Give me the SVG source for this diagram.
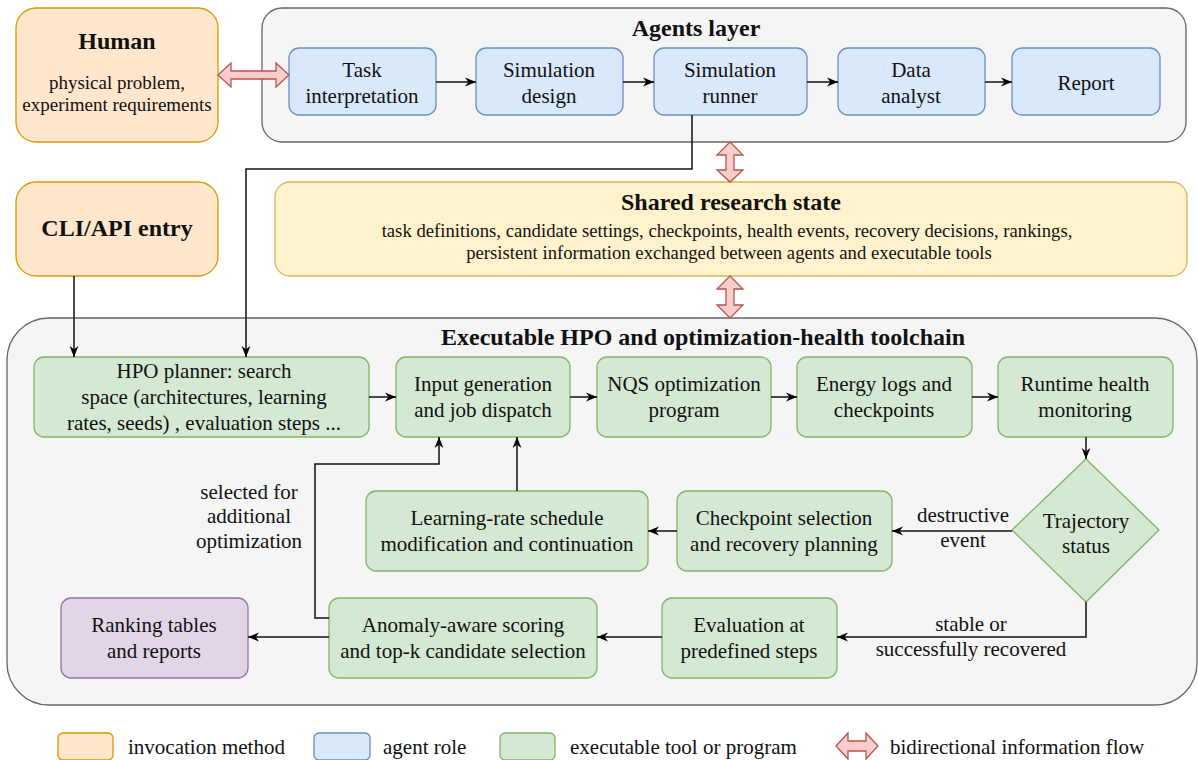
<svg xmlns="http://www.w3.org/2000/svg" width="1198" height="760" viewBox="0 0 1198 760">
<defs>
<marker id="arr" viewBox="0 0 10 10" refX="10" refY="5" markerWidth="11" markerHeight="11" markerUnits="userSpaceOnUse" orient="auto"><path d="M0,1 L10,5 L0,9 L3,5 z" fill="#000"/></marker>
<style>
text{font-family:"Liberation Serif","Times New Roman",serif;fill:#111;text-anchor:middle;}
.t{font-size:21px;}
.s{font-size:19px;}
.s2{font-size:18.7px;}
.b{font-size:24px;font-weight:bold;}
.inv{fill:#ffe6cc;stroke:#d79b00;stroke-width:1.3;}
.ag{fill:#dae8fc;stroke:#6c8ebf;stroke-width:1.3;}
.ex{fill:#d5e8d4;stroke:#82b366;stroke-width:1.3;}
.pu{fill:#e1d5e7;stroke:#9673a6;stroke-width:1.3;}
.st{fill:#fff2cc;stroke:#d6b656;stroke-width:1.3;}
.grp{fill:#f5f5f5;stroke:#666666;stroke-width:1.3;}
.bi{fill:#f8cecc;stroke:#b85450;stroke-width:1.3;}
.c{fill:none;stroke:#111;stroke-width:1.5;marker-end:url(#arr);}
.l{text-anchor:start;}
</style>
</defs>

<g id="agents-layer">
<rect class="grp" x="262" y="8" width="924" height="134" rx="20"/>
<text class="b" x="696" y="36">Agents layer</text>
</g>
<g id="toolchain">
<rect class="grp" x="7" y="318" width="1190" height="387" rx="42"/>
<text class="b" x="703" y="345">Executable HPO and optimization-health toolchain</text>
</g>

<g id="human">
<rect class="inv" x="16" y="8" width="202" height="134" rx="20"/>
<text class="b" x="117" y="49">Human</text>
<text class="s" x="117" y="89">physical problem,</text>
<text class="s" x="117" y="111">experiment requirements</text>
</g>
<g id="cli">
<rect class="inv" x="16" y="182" width="202" height="94" rx="20"/>
<text class="b" x="117" y="236">CLI/API entry</text>
</g>
<g id="shared-state">
<rect class="st" x="275" y="182" width="912" height="94" rx="15"/>
<text class="b" x="731" y="210">Shared research state</text>
<text class="s2" x="727" y="237">task definitions, candidate settings, checkpoints, health events, recovery decisions, rankings,</text>
<text class="s2" x="729" y="259">persistent information exchanged between agents and executable tools</text>
</g>

<g id="task-interpretation">
<rect class="ag" x="289" y="48" width="147" height="67" rx="10"/>
<text class="t" x="362" y="77">Task</text>
<text class="t" x="362" y="103">interpretation</text>
</g>
<g id="simulation-design">
<rect class="ag" x="476" y="48" width="147" height="67" rx="10"/>
<text class="t" x="549" y="77">Simulation</text>
<text class="t" x="549" y="103">design</text>
</g>
<g id="simulation-runner">
<rect class="ag" x="654" y="48" width="153" height="67" rx="10"/>
<text class="t" x="730" y="77">Simulation</text>
<text class="t" x="730" y="103">runner</text>
</g>
<g id="data-analyst">
<rect class="ag" x="838" y="48" width="147" height="67" rx="10"/>
<text class="t" x="911" y="77">Data</text>
<text class="t" x="911" y="103">analyst</text>
</g>
<g id="report">
<rect class="ag" x="1012" y="48" width="148" height="67" rx="10"/>
<text class="t" x="1086" y="90">Report</text>
</g>

<g id="hpo-planner">
<rect class="ex" x="34" y="357" width="335" height="80" rx="10"/>
<text class="t" x="204" y="378">HPO planner: search</text>
<text class="t" x="204" y="404">space (architectures, learning</text>
<text class="t" x="204" y="430">rates, seeds) , evaluation steps ...</text>
</g>
<g id="input-generation">
<rect class="ex" x="396" y="357" width="174" height="80" rx="10"/>
<text class="t" x="483" y="391">Input generation</text>
<text class="t" x="483" y="417">and job dispatch</text>
</g>
<g id="nqs-program">
<rect class="ex" x="597" y="357" width="174" height="80" rx="10"/>
<text class="t" x="684" y="391">NQS optimization</text>
<text class="t" x="684" y="417">program</text>
</g>
<g id="energy-logs">
<rect class="ex" x="797" y="357" width="175" height="80" rx="10"/>
<text class="t" x="884" y="391">Energy logs and</text>
<text class="t" x="884" y="417">checkpoints</text>
</g>
<g id="runtime-health">
<rect class="ex" x="998" y="357" width="175" height="80" rx="10"/>
<text class="t" x="1085" y="391">Runtime health</text>
<text class="t" x="1085" y="417">monitoring</text>
</g>
<g id="trajectory-status">
<polygon class="ex" points="1086,459 1159,530 1086,602 1012,530"/>
<text class="t" x="1086" y="528">Trajectory</text>
<text class="t" x="1086" y="553">status</text>
</g>
<g id="checkpoint-selection">
<rect class="ex" x="677" y="491" width="215" height="80" rx="10"/>
<text class="t" x="784" y="525">Checkpoint selection</text>
<text class="t" x="784" y="551">and recovery planning</text>
</g>
<g id="learning-rate">
<rect class="ex" x="366" y="491" width="282" height="80" rx="10"/>
<text class="t" x="507" y="525">Learning-rate schedule</text>
<text class="t" x="507" y="551">modification and continuation</text>
</g>
<g id="evaluation">
<rect class="ex" x="662" y="598" width="175" height="80" rx="10"/>
<text class="t" x="749" y="632">Evaluation at</text>
<text class="t" x="749" y="658">predefined steps</text>
</g>
<g id="anomaly-scoring">
<rect class="ex" x="329" y="598" width="268" height="80" rx="10"/>
<text class="t" x="463" y="632">Anomaly-aware scoring</text>
<text class="t" x="463" y="658">and top-k candidate selection</text>
</g>
<g id="ranking">
<rect class="pu" x="61" y="598" width="187" height="80" rx="10"/>
<text class="t" x="154" y="632">Ranking tables</text>
<text class="t" x="154" y="658">and reports</text>
</g>

<g id="connectors">
<path class="c" d="M436,82 H476"/>
<path class="c" d="M623,82 H654"/>
<path class="c" d="M807,82 H838"/>
<path class="c" d="M985,82 H1012"/>
<path class="c" d="M692,115 V169 H246 V357"/>
<path class="c" d="M74,276 V357"/>
<path class="c" d="M369,397 H396"/>
<path class="c" d="M570,397 H597"/>
<path class="c" d="M771,397 H797"/>
<path class="c" d="M972,397 H998"/>
<path class="c" d="M1086,437 V459"/>
<path class="c" d="M1012,531 H892"/>
<path class="c" d="M677,531 H648"/>
<path class="c" d="M517,491 V437"/>
<path class="c" d="M329,618 H315 V464 H439 V437"/>
<path class="c" d="M1086,602 V637 H837"/>
<path class="c" d="M662,637 H597"/>
<path class="c" d="M329,637 H248"/>
<polygon class="bi" points="218,75 231,63 231,71 276,71 276,63 289,75 276,87 276,79 231,79 231,87"/>
<polygon class="bi" points="730,142 743,155 734,155 734,170 743,170 730,182 717,170 726,170 726,155 717,155"/>
<polygon class="bi" points="730,276 743,289 734,289 734,305 743,305 730,318 717,305 726,305 726,289 717,289"/>
<g id="edge-labels">
<text class="t" x="963" y="522">destructive</text>
<text class="t" x="963" y="547">event</text>
<text class="t" x="971" y="631">stable or</text>
<text class="t" x="971" y="656">successfully recovered</text>
<text class="t" x="249" y="499">selected for</text>
<text class="t" x="249" y="523">additional</text>
<text class="t" x="249" y="548">optimization</text>
</g>
</g>

<g id="legend">
<rect class="inv" x="58" y="733" width="55" height="27" rx="5"/>
<text class="t l" x="128" y="754">invocation method</text>
<rect class="ag" x="314" y="733" width="56" height="27" rx="5"/>
<text class="t l" x="383" y="754">agent role</text>
<rect class="ex" x="500" y="733" width="55" height="27" rx="5"/>
<text class="t l" x="570" y="754">executable tool or program</text>
<polygon class="bi" points="836,746 848,733 848,741 866,741 866,733 878,746 866,759 866,751 848,751 848,759"/>
<text class="t l" x="890" y="754">bidirectional information flow</text>
</g>
</svg>
